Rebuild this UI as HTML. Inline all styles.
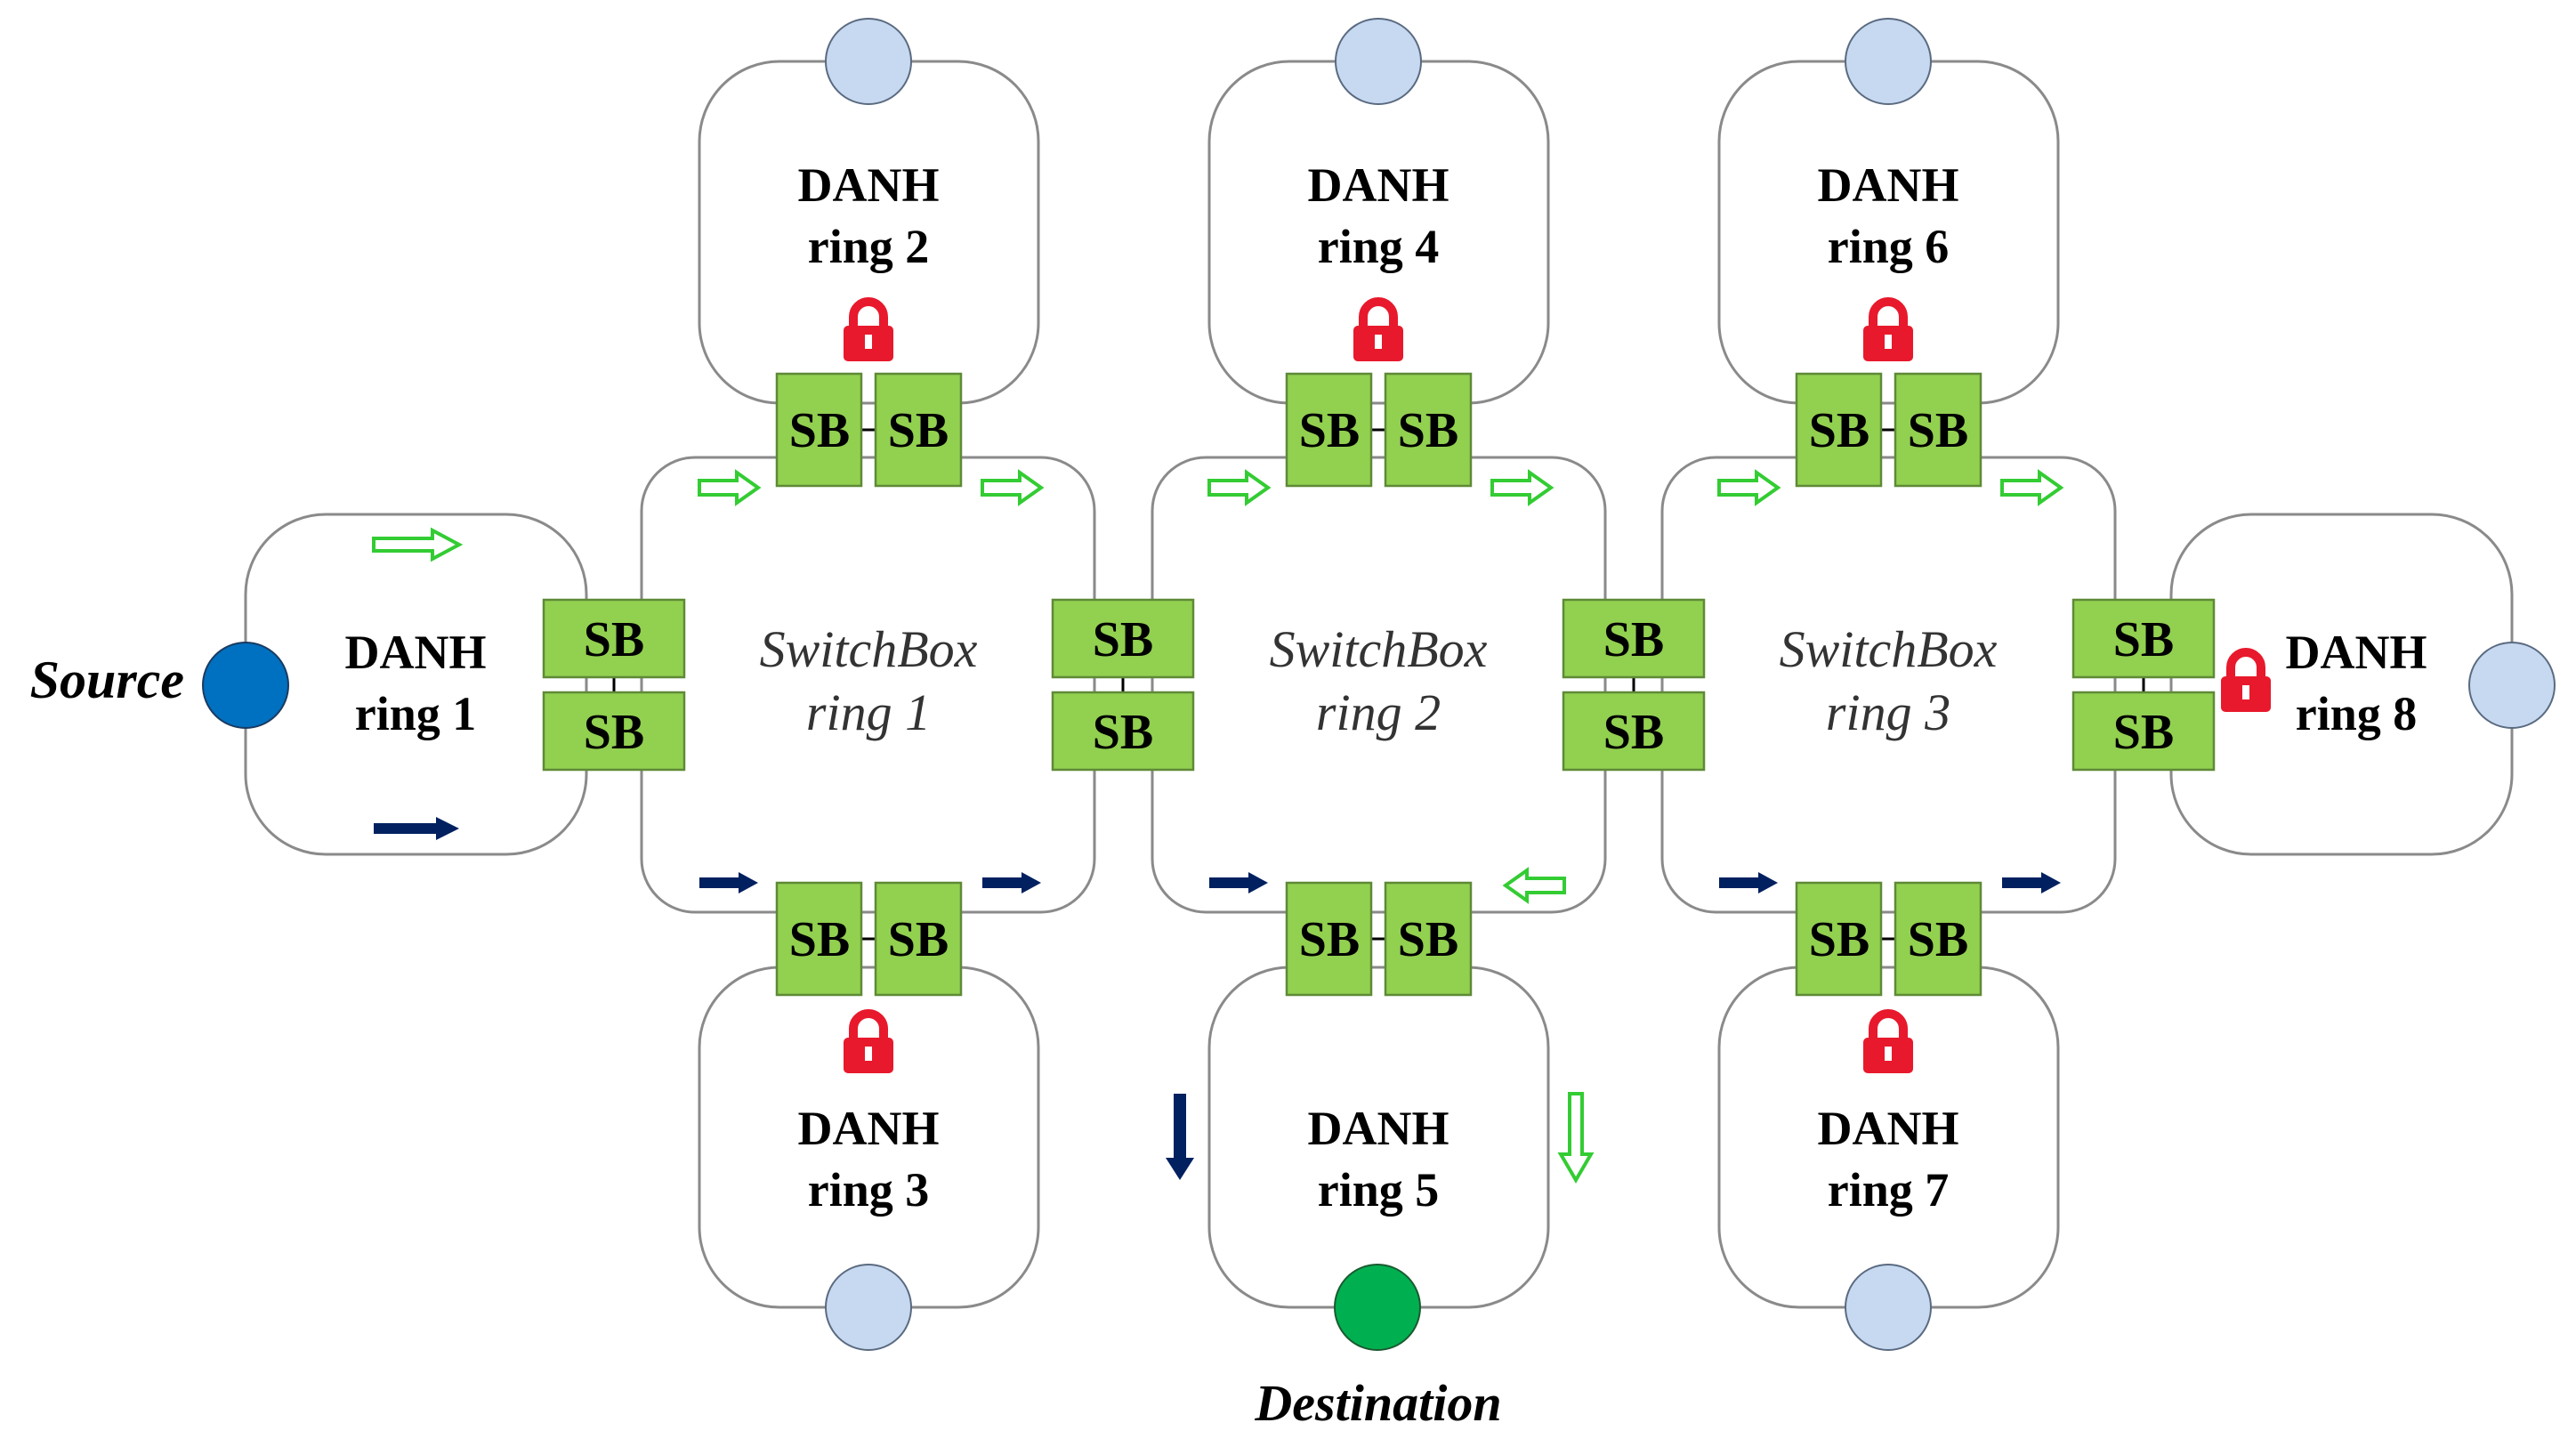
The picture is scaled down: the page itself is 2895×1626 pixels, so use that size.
<!DOCTYPE html>
<html><head><meta charset="utf-8"><style>
html,body{margin:0;padding:0;background:#fff}
svg{display:block}
.r{fill:#fff;stroke:#8a8a8a;stroke-width:3}
.sb{fill:#92d050;stroke:#5e8a36;stroke-width:2.5}
.sbt{font-family:"Liberation Serif",serif;font-weight:bold;font-size:56px;fill:#000;text-anchor:middle}
.dt{font-family:"Liberation Serif",serif;font-weight:bold;font-size:54px;fill:#000;text-anchor:middle}
.st{font-family:"Liberation Serif",serif;font-style:italic;font-size:58px;fill:#333;text-anchor:middle}
.ga{fill:#fff;stroke:#33cc33;stroke-width:4}
.da{fill:#002060}
.lk{fill:#e8192c}
</style></head><body>
<svg width="2895" height="1626" viewBox="0 0 2895 1626" xmlns="http://www.w3.org/2000/svg">
<defs>
<g id="lock">
<path d="M-17,0 V-14 A17,17 0 0 1 17,-14 V0" fill="none" stroke="#e8192c" stroke-width="10"/>
<rect x="-28" y="-4" width="56" height="40" rx="5" class="lk"/>
<rect x="-4" y="6" width="8" height="16" fill="#fff"/>
</g>
</defs>

<rect class="r" x="786" y="69" width="381" height="384" rx="90"/>
<rect class="r" x="1359" y="69" width="381" height="384" rx="90"/>
<rect class="r" x="1932" y="69" width="381" height="384" rx="90"/>
<rect class="r" x="786" y="1087" width="381" height="382" rx="90"/>
<rect class="r" x="1359" y="1087" width="381" height="382" rx="90"/>
<rect class="r" x="1932" y="1087" width="381" height="382" rx="90"/>
<rect class="r" x="276" y="578" width="383" height="382" rx="90"/>
<rect class="r" x="2440" y="578" width="383" height="382" rx="90"/>

<rect class="r" x="721" y="514" width="509" height="511" rx="60"/>
<rect class="r" x="1295" y="514" width="509" height="511" rx="60"/>
<rect class="r" x="1868" y="514" width="509" height="511" rx="60"/>

<g id="vp1">
<line x1="968" y1="483" x2="984" y2="483" stroke="#000" stroke-width="3"/>
<rect class="sb" x="873" y="420" width="95" height="126"/>
<rect class="sb" x="984" y="420" width="96" height="126"/>
<text class="sbt" x="921" y="502">SB</text><text class="sbt" x="1032" y="502">SB</text>
</g>
<use href="#vp1" x="573"/>
<use href="#vp1" x="1146"/>
<use href="#vp1" y="572"/>
<use href="#vp1" x="573" y="572"/>
<use href="#vp1" x="1146" y="572"/>

<g id="hp1">
<line x1="690" y1="761" x2="690" y2="778" stroke="#000" stroke-width="3"/>
<rect class="sb" x="611" y="674" width="158" height="87"/>
<rect class="sb" x="611" y="778" width="158" height="87"/>
<text class="sbt" x="690" y="737">SB</text><text class="sbt" x="690" y="841">SB</text>
</g>
<use href="#hp1" x="572"/>
<use href="#hp1" x="1146"/>
<use href="#hp1" x="1719"/>

<ellipse cx="976" cy="69" rx="48" ry="48" fill="#c6d9f1" stroke="#5a6a80" stroke-width="2"/>
<ellipse cx="1549" cy="69" rx="48" ry="48" fill="#c6d9f1" stroke="#5a6a80" stroke-width="2"/>
<ellipse cx="2122" cy="69" rx="48" ry="48" fill="#c6d9f1" stroke="#5a6a80" stroke-width="2"/>
<ellipse cx="976" cy="1469" rx="48" ry="48" fill="#c6d9f1" stroke="#5a6a80" stroke-width="2"/>
<ellipse cx="2122" cy="1469" rx="48" ry="48" fill="#c6d9f1" stroke="#5a6a80" stroke-width="2"/>
<ellipse cx="2823" cy="770" rx="48" ry="48" fill="#c6d9f1" stroke="#5a6a80" stroke-width="2"/>
<ellipse cx="1548" cy="1469" rx="48" ry="48" fill="#00b050" stroke="#1a5a30" stroke-width="2"/>
<ellipse cx="276" cy="770" rx="48" ry="48" fill="#0070c0" stroke="#1a3a60" stroke-width="2"/>

<use href="#lock" x="976" y="370"/>
<use href="#lock" x="1549" y="370"/>
<use href="#lock" x="2122" y="370"/>
<use href="#lock" x="976" y="1170"/>
<use href="#lock" x="2122" y="1170"/>
<use href="#lock" x="2524" y="764"/>

<g id="gar"><polygon class="ga" points="0,7 42,7 42,-2 66,15 42,32 42,23 0,23" transform="translate(786,533)"/></g>
<use href="#gar" x="318"/><use href="#gar" x="573"/><use href="#gar" x="891"/><use href="#gar" x="1146"/><use href="#gar" x="1464"/>
<polygon class="ga" points="0,9 66,9 66,0 96,16 66,32 66,23 0,23" transform="translate(420,596)"/>
<polygon class="da" points="0,7 70,7 70,0 96,13 70,26 70,19 0,19" transform="translate(420,918)"/>
<g id="dar"><polygon class="da" points="0,6 44,6 44,0 66,12 44,24 44,18 0,18" transform="translate(786,980)"/></g>
<use href="#dar" x="318"/><use href="#dar" x="573"/><use href="#dar" x="1146"/><use href="#dar" x="1464"/>
<polygon class="ga" points="66,7 24,7 24,-2 0,15 24,32 24,23 66,23" transform="translate(1692,980)"/>
<polygon class="da" points="-7,0 7,0 7,72 16,72 0,97 -16,72 -7,72" transform="translate(1326,1229)"/>
<polygon class="ga" points="-7,0 7,0 7,68 17,68 0,97 -17,68 -7,68" transform="translate(1771,1229)"/>

<text class="dt" x="976" y="226">DANH</text><text class="dt" x="976" y="295">ring 2</text>
<text class="dt" x="1549" y="226">DANH</text><text class="dt" x="1549" y="295">ring 4</text>
<text class="dt" x="2122" y="226">DANH</text><text class="dt" x="2122" y="295">ring 6</text>
<text class="dt" x="976" y="1286">DANH</text><text class="dt" x="976" y="1355">ring 3</text>
<text class="dt" x="1549" y="1286">DANH</text><text class="dt" x="1549" y="1355">ring 5</text>
<text class="dt" x="2122" y="1286">DANH</text><text class="dt" x="2122" y="1355">ring 7</text>
<text class="dt" x="467" y="751">DANH</text><text class="dt" x="467" y="820">ring 1</text>
<text class="dt" x="2648" y="751">DANH</text><text class="dt" x="2648" y="820">ring 8</text>
<text class="st" x="976" y="749">SwitchBox</text><text class="st" x="976" y="820">ring 1</text>
<text class="st" x="1549" y="749">SwitchBox</text><text class="st" x="1549" y="820">ring 2</text>
<text class="st" x="2122" y="749">SwitchBox</text><text class="st" x="2122" y="820">ring 3</text>
<text x="207" y="784" text-anchor="end" font-family="Liberation Serif,serif" font-weight="bold" font-style="italic" font-size="60">Source</text>
<text x="1549" y="1596" text-anchor="middle" font-family="Liberation Serif,serif" font-weight="bold" font-style="italic" font-size="58">Destination</text>
</svg>
</body></html>
